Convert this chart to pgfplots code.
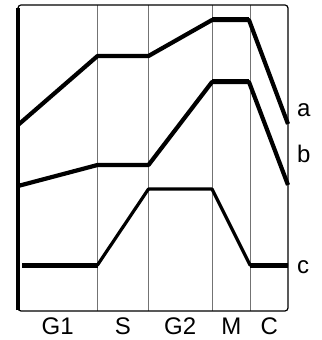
\documentclass[border=0pt]{standalone}
\usepackage{pgfplots}
\pgfplotsset{compat=1.18}
\usepackage{fontspec}
\setmainfont{Liberation Sans}
\newcommand\bigf{\fontsize{24bp}{26bp}\selectfont}
\begin{document}
\begin{tikzpicture}[font=\bigf]
\useasboundingbox (-18bp,-29bp) rectangle (304bp,311bp);
\begin{axis}[
  at={(0,0)}, anchor=south west,
  scale only axis, width=270bp, height=306bp,
  xmin=0, xmax=270, ymin=0, ymax=306,
  axis line style={draw=none}, clip=false,
  ytick=\empty,
  xtick={79.5,130.5,194,232.5}, xticklabels={},
  xmajorgrids, major grid style={black!55, line width=0.8bp},
  major tick length=0pt,
  extra x ticks={39.75,105,162.25,213.25,251.25},
  extra x tick labels={G1,S,G2,M,C},
  extra x tick style={grid=none, major tick length=0pt,
    tick label style={font=\bigf, anchor=base, yshift=-23.5bp, inner sep=0pt}},
  every axis plot/.append style={line join=round},
]
% frame
\draw[line width=1.2bp, rounded corners=3bp] (rel axis cs:0,0) rectangle (rel axis cs:1,1);
\draw[line width=3bp] (axis cs:0,1) -- (axis cs:0,303);
% a
\addplot[black, line width=4.2bp] coordinates {(0,186) (79.5,255) (130.5,255) (194,291) (231,291) (270,187)};
\addplot[black, line width=5bp] coordinates {(194,291) (231,291)};
% b
\addplot[black, line width=4.2bp] coordinates {(0,125) (79.5,146) (130.5,146) (194,229) (231,229) (270,126)};
\addplot[black, line width=5bp] coordinates {(194,229) (231,229)};
% c
\addplot[black, line width=3.2bp] coordinates {(4,46) (79.5,46) (130.5,122) (194,122) (232,46) (270,46)};
\addplot[black, line width=5bp, unbounded coords=jump] coordinates {(4,46) (79.5,46) (nan,nan) (232,46) (270,46)};
\node[font=\bigf, anchor=base west, inner sep=0pt] at (axis cs:279,194) {a};
\node[font=\bigf, anchor=base west, inner sep=0pt] at (axis cs:279,148) {b};
\node[font=\bigf, anchor=base west, inner sep=0pt] at (axis cs:279,38) {c};
\end{axis}
\end{tikzpicture}
\end{document}
